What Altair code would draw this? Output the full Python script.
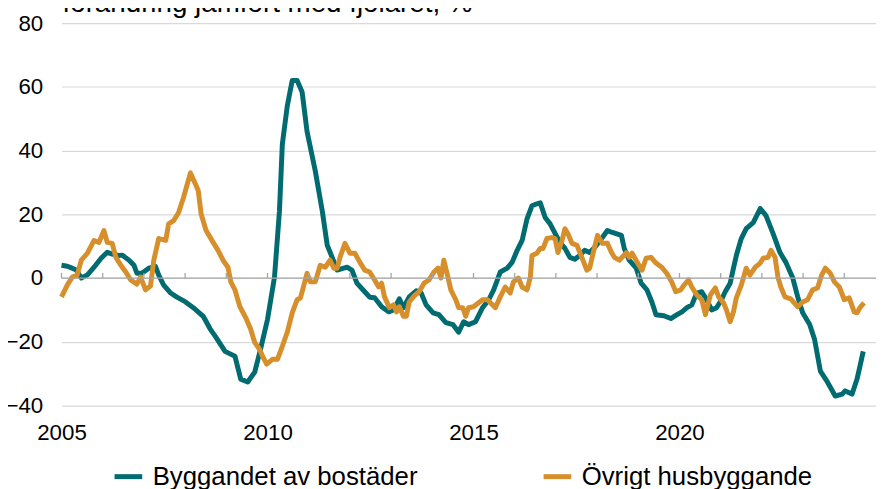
import altair as alt
import pandas as pd

# --- data (decimal year, % change y/y) ---
bost_year = [2005.00, 2005.14, 2005.26, 2005.36, 2005.48, 2005.63, 2005.79, 2005.96, 2006.11, 2006.23,
             2006.39, 2006.47, 2006.64, 2006.76, 2006.83, 2006.95, 2007.12, 2007.28, 2007.36, 2007.48,
             2007.65, 2007.79, 2008.01, 2008.20, 2008.44, 2008.61, 2008.75, 2008.97, 2009.21, 2009.35,
             2009.52, 2009.69, 2009.83, 2010.00, 2010.17, 2010.29, 2010.36, 2010.48, 2010.60, 2010.72,
             2010.84, 2010.96, 2011.16, 2011.33, 2011.45, 2011.57, 2011.69, 2011.93, 2012.05, 2012.17,
             2012.36, 2012.48, 2012.60, 2012.77, 2012.94, 2013.06, 2013.20, 2013.30, 2013.44, 2013.61,
             2013.73, 2013.85, 2014.02, 2014.16, 2014.33, 2014.50, 2014.64, 2014.76, 2014.88, 2015.05,
             2015.22, 2015.37, 2015.49, 2015.58, 2015.65, 2015.82, 2015.94, 2016.06, 2016.18, 2016.30,
             2016.42, 2016.54, 2016.62, 2016.74, 2016.86, 2016.98, 2017.10, 2017.22, 2017.34, 2017.46,
             2017.58, 2017.70, 2017.82, 2017.94, 2018.11, 2018.25, 2018.37, 2018.59, 2018.66, 2018.78,
             2018.95, 2019.07, 2019.21, 2019.33, 2019.43, 2019.62, 2019.79, 2019.94, 2020.06, 2020.18,
             2020.30, 2020.42, 2020.54, 2020.66, 2020.78, 2020.90, 2021.02, 2021.11, 2021.23, 2021.31,
             2021.38, 2021.50, 2021.62, 2021.79, 2021.96, 2022.10, 2022.27, 2022.44, 2022.58, 2022.75,
             2022.87, 2022.99, 2023.16, 2023.28, 2023.42, 2023.59, 2023.78, 2023.95, 2024.02, 2024.19,
             2024.31, 2024.38, 2024.46]
bost_val = [4.0, 3.7, 3.1, 2.5, 0.0, 1.0, 3.4, 6.2, 8.1, 7.5,
            7.1, 7.2, 5.6, 4.0, 1.5, 1.5, 3.1, 3.7, 0.9, -2.2,
            -4.7, -5.9, -7.5, -9.3, -12.0, -16.0, -18.6, -23.0, -24.5, -31.7,
            -32.6, -29.5, -22.4, -13.0, 0.3, 21.0, 42.0, 54.0, 62.0, 62.0,
            58.4, 46.0, 33.6, 21.0, 10.3, 6.5, 2.5, 3.4, 2.5, -1.6,
            -4.3, -6.0, -6.2, -9.0, -10.6, -10.0, -6.5, -9.3, -5.9, -4.0,
            -4.7, -8.4, -10.9, -11.5, -14.0, -14.6, -17.0, -13.7, -14.6, -13.7,
            -9.3, -6.8, -3.7, -0.6, 1.9, 3.1, 5.0, 8.7, 11.8, 18.6,
            22.7, 23.3, 23.6, 19.0, 17.0, 14.0, 11.2, 9.3, 6.5, 5.9,
            7.1, 8.7, 8.0, 9.6, 12.4, 14.9, 14.3, 13.4, 9.3, 5.6,
            3.1, -1.6, -3.7, -7.5, -11.5, -11.8, -12.7, -11.5, -10.6, -9.3,
            -8.4, -4.7, -4.3, -6.8, -10.0, -9.3, -6.8, -4.3, -1.6, 3.1,
            7.1, 12.4, 15.5, 17.4, 21.8, 19.6, 14.0, 8.0, 5.0, 0.0,
            -5.9, -10.9, -14.6, -19.3, -29.2, -32.6, -37.0, -36.4, -35.4, -36.4,
            -31.7, -27.7, -23.0]

ovr_year = [2005.00, 2005.14, 2005.26, 2005.38, 2005.48, 2005.63, 2005.79, 2005.91, 2006.03, 2006.11,
            2006.23, 2006.32, 2006.44, 2006.56, 2006.68, 2006.83, 2006.92, 2007.04, 2007.16, 2007.24,
            2007.36, 2007.53, 2007.60, 2007.72, 2007.84, 2007.96, 2008.13, 2008.25, 2008.32, 2008.39,
            2008.51, 2008.68, 2008.80, 2008.92, 2009.04, 2009.11, 2009.21, 2009.33, 2009.47, 2009.59,
            2009.69, 2009.81, 2009.88, 2009.98, 2010.12, 2010.24, 2010.36, 2010.48, 2010.60, 2010.72,
            2010.80, 2010.96, 2011.04, 2011.16, 2011.28, 2011.40, 2011.52, 2011.61, 2011.69, 2011.76,
            2011.88, 2012.00, 2012.12, 2012.24, 2012.36, 2012.48, 2012.60, 2012.70, 2012.77, 2012.84,
            2012.96, 2013.06, 2013.13, 2013.20, 2013.30, 2013.37, 2013.44, 2013.56, 2013.68, 2013.80,
            2013.92, 2014.04, 2014.14, 2014.21, 2014.28, 2014.38, 2014.45, 2014.57, 2014.64, 2014.74,
            2014.81, 2014.88, 2015.00, 2015.22, 2015.34, 2015.46, 2015.53, 2015.65, 2015.77, 2015.89,
            2015.97, 2016.09, 2016.18, 2016.30, 2016.38, 2016.42, 2016.54, 2016.62, 2016.69, 2016.78,
            2016.90, 2016.98, 2017.05, 2017.15, 2017.22, 2017.29, 2017.39, 2017.51, 2017.63, 2017.75,
            2017.82, 2017.89, 2018.01, 2018.13, 2018.25, 2018.35, 2018.42, 2018.54, 2018.71, 2018.78,
            2018.85, 2018.97, 2019.09, 2019.19, 2019.31, 2019.43, 2019.57, 2019.69, 2019.81, 2019.91,
            2020.03, 2020.11, 2020.22, 2020.30, 2020.42, 2020.54, 2020.63, 2020.75, 2020.87, 2020.95,
            2021.07, 2021.14, 2021.23, 2021.31, 2021.38, 2021.50, 2021.62, 2021.71, 2021.84, 2021.96,
            2022.03, 2022.15, 2022.22, 2022.32, 2022.39, 2022.46, 2022.56, 2022.70, 2022.87, 2022.99,
            2023.11, 2023.23, 2023.35, 2023.45, 2023.54, 2023.66, 2023.76, 2023.88, 2024.00, 2024.12,
            2024.24, 2024.31, 2024.38, 2024.48]
ovr_val = [-5.9, -2.2, 0.3, 0.9, 5.6, 7.8, 11.8, 11.2, 14.9, 11.2,
           10.9, 6.5, 4.0, 1.9, -0.6, -1.9, 0.3, -3.7, -2.5, 5.6,
           12.4, 11.8, 17.0, 18.0, 20.5, 25.2, 33.0, 29.5, 27.4, 20.0,
           14.9, 11.2, 8.7, 5.6, 3.4, -1.2, -3.7, -9.0, -12.4, -16.0,
           -20.2, -22.4, -24.5, -27.0, -25.5, -25.5, -21.4, -17.0, -10.9, -6.8,
           -6.2, 1.5, -1.2, -1.2, 4.0, 3.4, 5.6, 3.1, 3.1, 6.5,
           10.9, 7.8, 7.8, 5.0, 2.5, 1.9, -0.6, -2.8, -1.6, -5.9,
           -9.3, -8.4, -10.6, -9.0, -12.0, -12.0, -7.5, -5.6, -4.3, -1.6,
           -0.6, 1.9, 3.1, 0.0, 5.6, 0.3, -3.7, -6.8, -9.3, -9.3,
           -12.0, -9.3, -9.0, -6.8, -6.8, -8.4, -9.3, -5.9, -2.8, -4.7,
           -1.2, 0.0, -2.8, -3.7, 0.3, 7.1, 7.8, 9.3, 9.3, 12.4,
           12.7, 12.4, 8.0, 11.8, 15.5, 14.0, 10.9, 10.3, 6.5, 2.5,
           3.1, 7.1, 13.4, 10.9, 10.9, 8.0, 6.5, 5.6, 8.0, 6.5,
           7.8, 5.0, 2.5, 6.2, 6.5, 4.7, 3.4, 1.5, -1.2, -4.3,
           -3.7, -2.2, -0.6, -2.8, -5.3, -6.8, -11.5, -5.3, -3.1, -5.9,
           -7.8, -10.0, -13.7, -10.6, -6.2, -2.2, 3.1, 0.9, 3.4, 4.7,
           6.2, 6.5, 8.7, 6.5, 0.3, -2.8, -5.9, -6.5, -9.0, -7.5,
           -6.8, -3.7, -3.1, 0.9, 3.1, 1.5, -1.2, -2.8, -6.8, -6.2,
           -10.6, -10.9, -9.3, -7.8]

series_names = ["Byggandet av bostäder", "Övrigt husbyggande"]
series_colors = ["#006b70", "#d68f2b"]
y_ticks = [-40, -20, 0, 20, 40, 60, 80]
x_labels = [2005, 2010, 2015, 2020]
tick_years = list(range(2005, 2025))
title_text = "förändring jämfört med fjolåret, %"

df = pd.concat([
    pd.DataFrame({"year": bost_year, "value": bost_val, "series": series_names[0]}),
    pd.DataFrame({"year": ovr_year, "value": ovr_val, "series": series_names[1]}),
], ignore_index=True)

x_scale = alt.Scale(domain=[2005, 2024.77], nice=False, zero=False)
y_scale = alt.Scale(domain=[-40, 80], nice=False)

x_axis = alt.Axis(values=x_labels, format="d", grid=False, ticks=False, domain=False,
                  labelFontSize=22.5, labelPadding=16, labelColor="black", labelFlush=False,
                  labelOverlap=False, title=None)
y_axis = alt.Axis(values=y_ticks, grid=True, gridColor="#d9d9d9", gridWidth=1.2,
                  ticks=False, domain=False, labelFontSize=22.5, labelPadding=19,
                  labelColor="black", labelFlush=False, labelOverlap=False, title=None)

lines = alt.Chart(df).mark_line(strokeWidth=5, strokeJoin="round").encode(
    x=alt.X("year:Q", scale=x_scale, axis=x_axis),
    y=alt.Y("value:Q", scale=y_scale, axis=y_axis),
    color=alt.Color("series:N", scale=alt.Scale(domain=series_names, range=series_colors),
                    legend=alt.Legend(title=None, orient="none", legendX=51, legendY=441,
                                      direction="horizontal", symbolType="stroke",
                                      symbolStrokeWidth=5, symbolSize=780, labelFontSize=26,
                                      labelLimit=500, labelColor="black", columnPadding=116,
                                      labelOffset=8)),
)

zero_line = alt.Chart(pd.DataFrame({"v": [0]})).mark_rule(color="#a6a6a6", strokeWidth=1.3).encode(
    y=alt.Y("v:Q", scale=y_scale, axis=y_axis)
)

ticks = alt.Chart(pd.DataFrame({"yr": tick_years, "y0": 0, "y1": 1.6})).mark_rule(
    color="#a6a6a6", strokeWidth=1.3
).encode(
    x=alt.X("yr:Q", scale=x_scale, axis=x_axis),
    y=alt.Y("y0:Q", scale=y_scale, axis=y_axis),
    y2="y1:Q",
)

title = alt.Chart(pd.DataFrame({"t": [title_text]})).mark_text(
    align="left", baseline="alphabetic", fontSize=28, color="black"
).encode(text="t:N", x=alt.value(1), y=alt.value(-11))

chart = alt.layer(lines, zero_line, ticks, title).properties(
    width=822, height=386,
    autosize=alt.AutoSizeParams(type="none"),
    padding={"left": 54, "top": 13, "right": 0, "bottom": 82},
).configure(font="Liberation Sans").configure_view(stroke=None)

chart.save("out.html", embed_options={"renderer": "svg", "actions": False})
